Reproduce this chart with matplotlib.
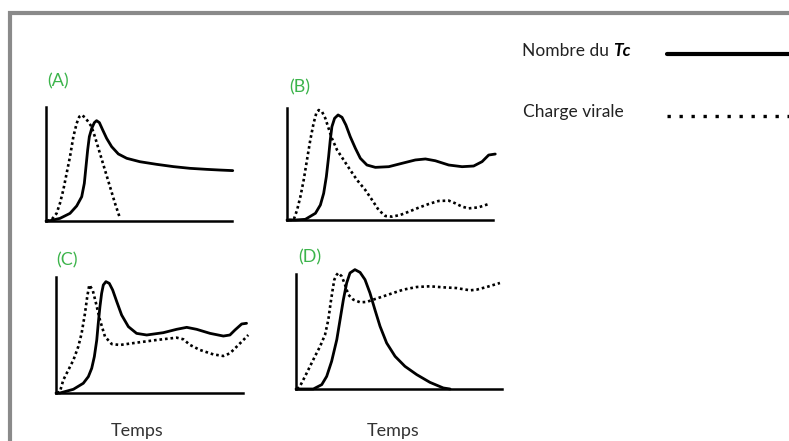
#!/usr/bin/env python3
"""Four sketch panels: Tc count vs viral load over time, scenarios A-D."""

import matplotlib.pyplot as plt
from matplotlib.lines import Line2D
from matplotlib.patches import Rectangle

# ── Data (time and level on a 0-100 scale per panel) ───────────────────────

A_TC_T = [0, 2.2, 7.5, 12.9, 16.5, 19.2, 20.6, 21.5, 22.4, 23.3, 24.6, 26.0,
          27.2, 28.7, 30.5, 32.6, 35.3, 38.9, 43.4, 50.5, 59.5, 68.5, 77.4,
          86.4, 93.5, 100.4]
A_TC_Y = [0, 0.3, 2.3, 6.7, 13.2, 21.3, 33.0, 47.7, 62.3, 74.0, 81.3, 86.3,
          88.0, 86.3, 79.8, 72.5, 65.2, 58.8, 55.0, 52.0, 49.7, 47.7, 46.2,
          45.3, 44.7, 44.2]
A_CV_T = [0.5, 3.0, 5.7, 7.5, 9.3, 11.1, 12.9, 14.7, 16.5, 17.9, 19.2, 20.9,
          22.7, 24.5, 26.3, 29.0, 31.7, 34.4, 37.1, 39.8]
A_CV_Y = [0, 1.2, 6.7, 15.5, 27.2, 41.8, 56.4, 73.9, 85.7, 91.5, 93.0, 90.9,
          87.1, 82.7, 73.9, 59.3, 44.7, 30.1, 15.5, 2.3]

B_TC_T = [0, 4.0, 8.9, 13.8, 16.2, 17.8, 19.1, 20.2, 21.0, 21.8, 23.1, 24.8,
          26.7, 28.6, 30.7, 33.2, 35.6, 38.8, 42.9, 49.4, 55.8, 62.3, 67.2,
          72.0, 78.5, 85.0, 90.6, 94.7, 97.9, 101.1]
B_TC_Y = [0, 0, 0.6, 6.0, 13.4, 23.8, 38.7, 56.5, 71.4, 83.3, 90.8, 93.8,
          91.7, 84.8, 74.4, 64.0, 55.1, 49.1, 47.0, 47.6, 50.6, 53.6, 54.5,
          52.9, 49.1, 47.6, 48.2, 52.1, 58.0, 58.9]
B_CV_T = [1.0, 3.2, 4.9, 6.5, 8.1, 9.7, 11.3, 12.9, 14.2, 15.4, 17.0, 18.6,
          20.2, 21.8, 24.3, 27.5, 30.7, 34.0, 38.0, 41.3, 44.5, 47.7, 51.0,
          55.0, 59.1, 63.9, 68.8, 73.6, 78.5, 81.7, 85.0, 88.2, 93.0, 97.9]
B_CV_Y = [0, 0, 8.9, 20.8, 35.7, 53.6, 71.4, 86.3, 95.2, 98.2, 96.7, 90.8,
          81.8, 72.9, 62.5, 53.6, 44.6, 35.7, 26.8, 17.9, 8.9, 3.6, 3.0, 4.5,
          7.4, 11.0, 14.3, 17.0, 17.3, 14.9, 11.9, 10.4, 11.3, 14.3]

C_TC_T = [0, 2.1, 9.3, 14.6, 17.3, 19.1, 20.5, 21.8, 22.6, 23.5, 24.4, 25.3,
          26.7, 28.5, 30.3, 32.5, 35.1, 38.7, 43.1, 48.5, 57.4, 64.5, 69.9,
          75.2, 82.4, 89.5, 93.0, 95.7, 99.3, 101.9]
C_TC_Y = [0, 0, 3.2, 8.4, 14.1, 21.3, 31.3, 45.7, 60.1, 74.4, 85.9, 93.1,
          96.0, 94.5, 88.8, 78.7, 67.2, 57.2, 51.4, 50.0, 52.0, 54.9, 56.6,
          54.9, 51.4, 49.1, 50.0, 54.3, 59.5, 60.1]
C_CV_T = [0.5, 2.1, 3.9, 6.6, 9.3, 11.9, 13.7, 15.5, 16.7, 17.8, 19.6, 21.4,
          23.5, 26.2, 29.8, 34.2, 43.1, 53.8, 64.5, 68.1, 71.7, 77.0, 84.1,
          89.5, 93.0, 96.6, 100.2, 102.8]
C_CV_Y = [0, 1.1, 11.2, 19.8, 28.4, 39.9, 51.4, 68.7, 83.0, 93.1, 88.8, 77.3,
          62.9, 48.6, 42.2, 41.4, 43.4, 45.7, 47.7, 46.3, 41.4, 37.1, 33.3,
          31.9, 34.2, 39.9, 45.7, 50.0]

D_TC_T = [0, 3.6, 8.4, 12.5, 14.9, 17.3, 19.8, 21.4, 23.0, 24.6, 26.2, 28.6,
          31.1, 33.5, 35.9, 38.3, 40.8, 44.0, 48.1, 52.9, 58.6, 65.0, 71.5,
          74.8]
D_TC_Y = [0, 0, 0, 3.8, 11.0, 24.1, 42.9, 60.3, 77.7, 92.2, 100.9, 103.8,
          101.4, 95.1, 83.5, 69.0, 54.5, 40.0, 28.4, 19.7, 12.5, 5.8, 0.9, 0]
D_CV_T = [0.5, 1.9, 4.4, 6.8, 9.2, 11.7, 14.1, 15.7, 16.8, 17.8, 18.6, 19.8,
          20.5, 22.2, 23.8, 25.4, 27.8, 31.1, 34.3, 37.5, 42.4, 47.2, 52.1,
          58.6, 65.0, 71.5, 77.8, 84.5, 87.7, 92.6, 99.0]
D_CV_Y = [0, 2.3, 11.0, 19.7, 28.4, 37.1, 47.2, 60.3, 74.8, 86.4, 95.1, 99.4,
          100.9, 98.0, 90.7, 82.0, 77.7, 75.4, 75.7, 77.7, 80.6, 83.5, 86.4,
          88.7, 89.3, 88.4, 87.8, 85.8, 86.4, 88.7, 92.2]

PANELS = ["(A)", "(B)", "(C)", "(D)"]
XLABEL = "Temps"
LEGEND_TC = "Nombre du"
LEGEND_TC_SYM = "Tc"
LEGEND_CV = "Charge virale"

# ── Layout (pixels on a 789x441 canvas) ────────────────────────────────────

W, H = 789, 441
# left, y of the time axis, width, height
BOXES = [(46, 221, 186, 114), (287, 220, 206, 112),
         (56, 393, 187, 116), (296, 389, 206, 115)]
LABEL_POS = [(58, 81), (300, 87), (67, 260), (310, 257)]
GREEN = "#3cb44b"
DOTS = (0, (1, 1.1))

plt.rcParams["font.family"] = ["Lato", "DejaVu Sans"]

fig = plt.figure(figsize=(W / 100, H / 100), dpi=100)
fig.patch.set_facecolor("white")

# grey frame running off the right and bottom edges
fig.add_artist(Rectangle((10 / W, -0.2), 1.2, 1.2 - 13 / H,
                         transform=fig.transFigure, fill=False,
                         edgecolor="#8a8a8a", linewidth=3.0))

series = [(A_TC_T, A_TC_Y, A_CV_T, A_CV_Y), (B_TC_T, B_TC_Y, B_CV_T, B_CV_Y),
          (C_TC_T, C_TC_Y, C_CV_T, C_CV_Y), (D_TC_T, D_TC_Y, D_CV_T, D_CV_Y)]

for (x0, y0, bw, bh), (tc_t, tc_y, cv_t, cv_y) in zip(BOXES, series):
    ax = fig.add_axes([x0 / W, 1 - y0 / H, bw / W, bh / H])
    ax.plot(tc_t, tc_y, color="black", linewidth=2.0, solid_joinstyle="round",
            solid_capstyle="round", clip_on=False)
    ax.plot(cv_t, cv_y, color="black", linewidth=1.9, linestyle=DOTS,
            dash_capstyle="butt", clip_on=False)
    ax.set_xlim(0, 100)
    ax.set_ylim(0, 100)
    ax.set_xticks([])
    ax.set_yticks([])
    for side in ("top", "right"):
        ax.spines[side].set_visible(False)
    for side in ("left", "bottom"):
        ax.spines[side].set_linewidth(1.8)
    ax.patch.set_alpha(0)

for label, (px, py) in zip(PANELS, LABEL_POS):
    fig.text(px / W, 1 - py / H, label, color=GREEN, fontsize=13,
             ha="center", va="center")

for px in (137, 393):
    fig.text(px / W, 1 - 431 / H, XLABEL, color="#333333", fontsize=13,
             ha="center", va="center")

# legend drawn by hand at the top right
fig.text(522 / W, 1 - 51 / H, LEGEND_TC, color="#222222", fontsize=12.5,
         ha="left", va="center")
fig.text(613 / W, 1 - 51 / H, LEGEND_TC_SYM, color="black", fontsize=12.5,
         fontweight="bold", fontstyle="italic", ha="left", va="center")
fig.text(523 / W, 1 - 112 / H, LEGEND_CV, color="#222222", fontsize=12.5,
         ha="left", va="center")
fig.add_artist(Line2D([667 / W, 1.0], [1 - 54 / H] * 2, color="black",
                      linewidth=3.0, solid_capstyle="round",
                      transform=fig.transFigure))
fig.add_artist(Line2D([667 / W, 1.0], [1 - 116 / H] * 2, color="black",
                      linewidth=2.4, linestyle=(0, (1, 2.6)),
                      dash_capstyle="butt", transform=fig.transFigure))

fig.savefig("out.png", dpi=100)
